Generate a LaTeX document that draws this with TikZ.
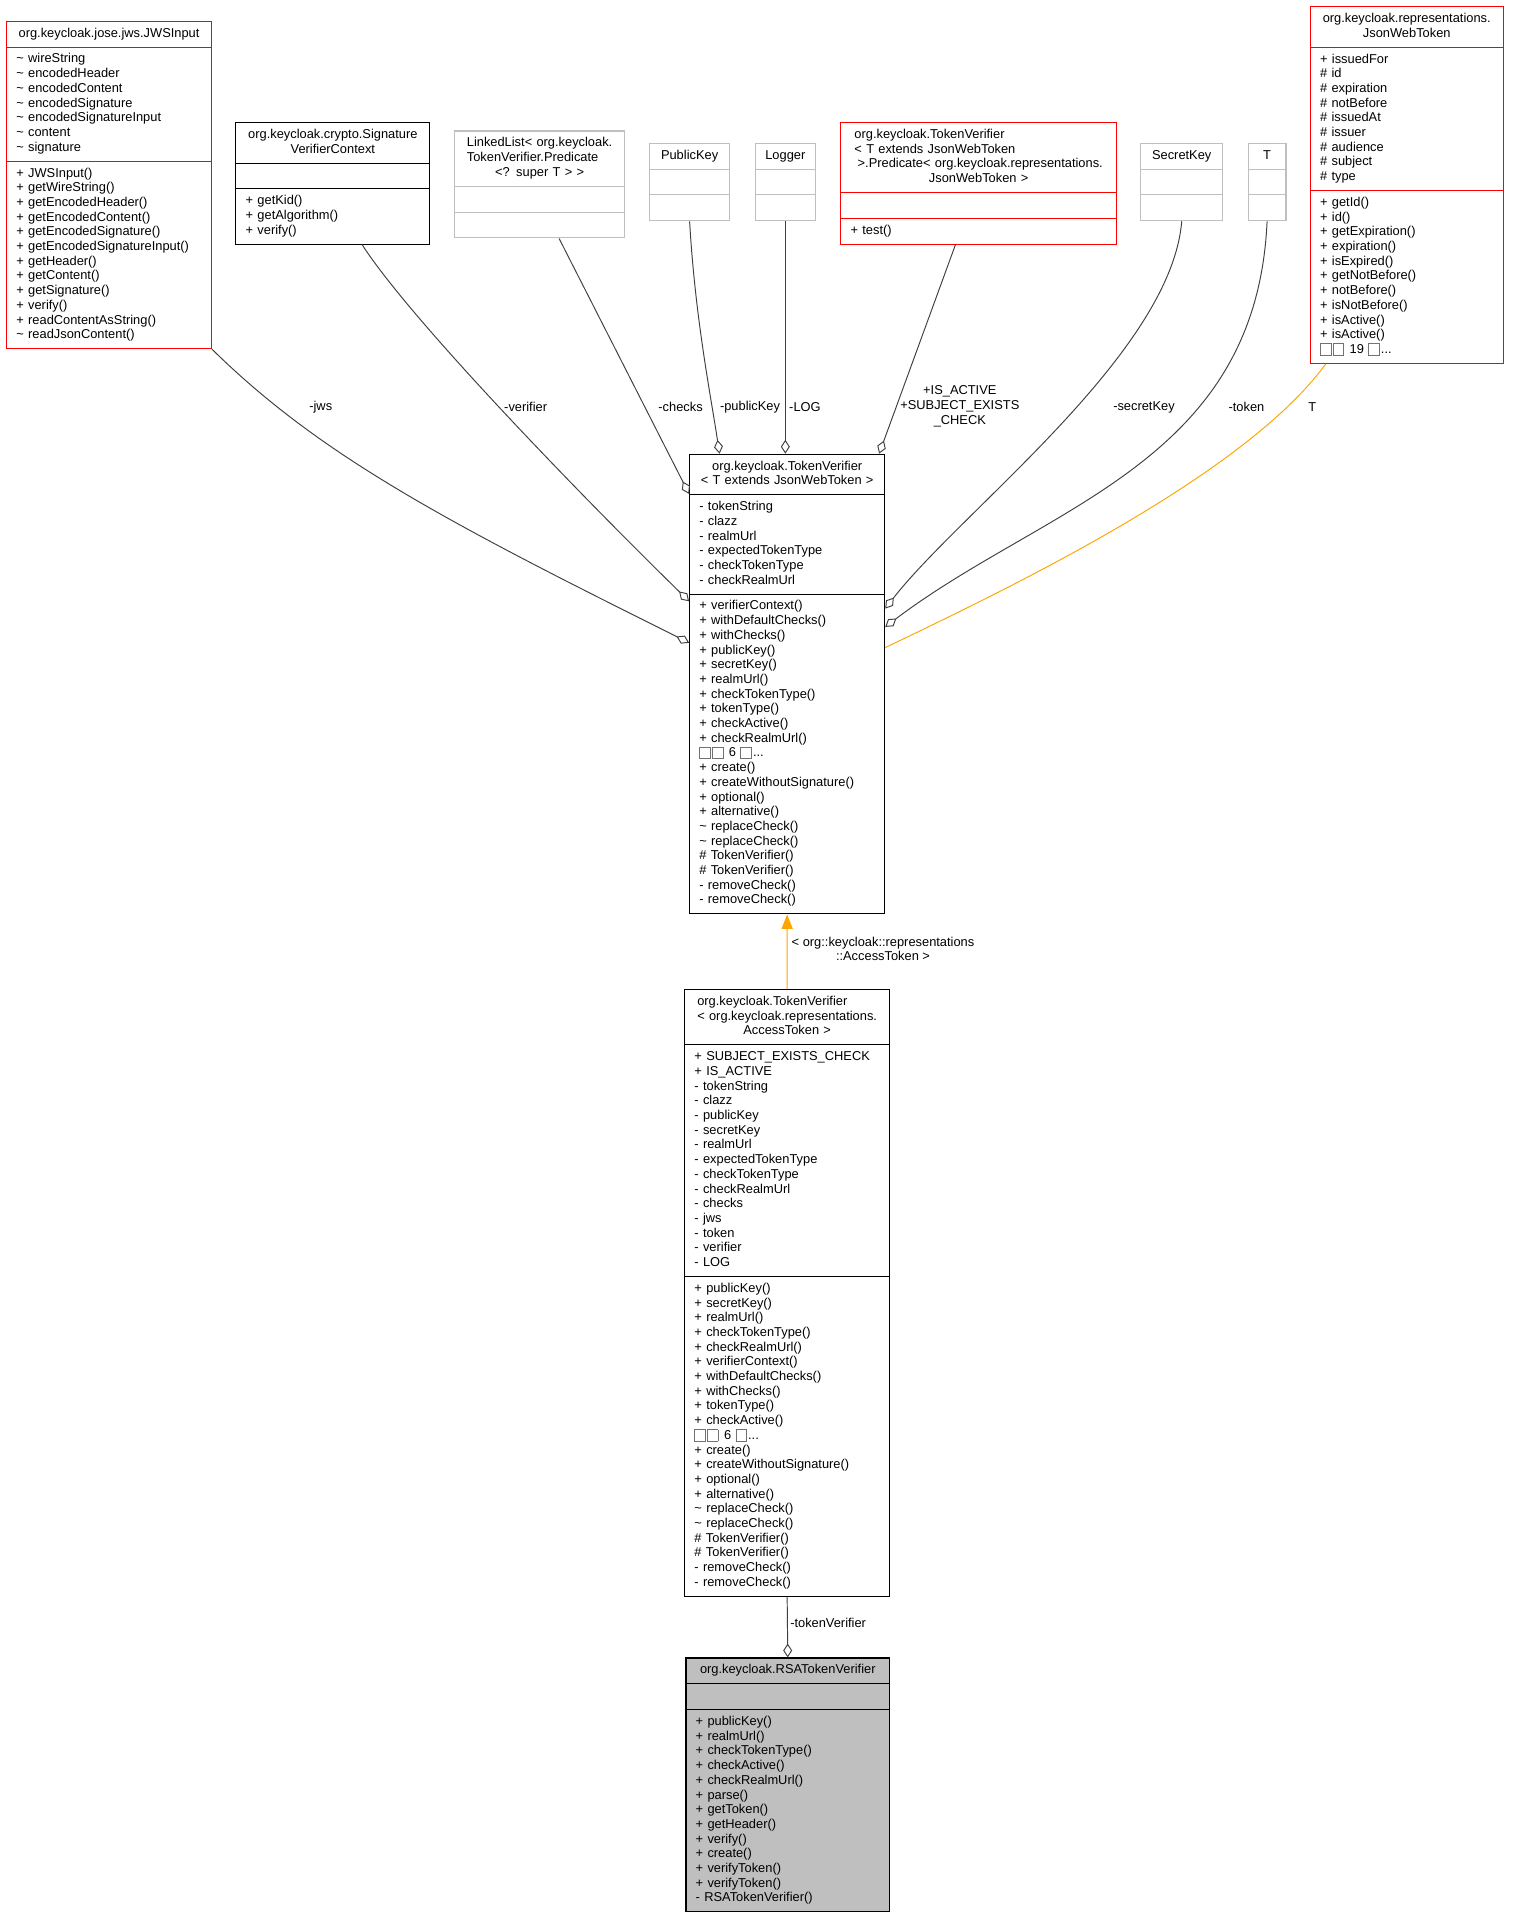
\documentclass[tikz,border=0pt]{standalone}
\usepackage{fontspec}
\setmainfont{Liberation Sans}
\usetikzlibrary{shapes.multipart,arrows.meta,calc,positioning}
\definecolor{edgegray}{HTML}{404040}
\definecolor{nodered}{HTML}{FF0000}
\definecolor{nodegray}{HTML}{BFBFBF}
\definecolor{tmplorange}{HTML}{FFA500}
\newcommand{\umlfont}{\fontsize{6}{6.86}\selectfont}
% compartments: a list of lines, a centred title, a title whose last line is centred
\newcommand{\mlist}[1]{\noindent\begin{tabular}[t]{@{}l@{}}#1\end{tabular}}
\newcommand{\mhead}[1]{\noindent\makebox[\hsize]{\begin{tabular}[t]{@{}c@{}}#1\end{tabular}}}
\newcommand{\mheadm}[2]{\noindent\makebox[\hsize]{\begin{tabular}[t]{@{}c@{}}\begin{tabular}[b]{@{}l@{}}#1\end{tabular}\\#2\end{tabular}}}
\newcommand{\nog}{{\color{nodegray!60!black}\fboxsep=0pt\fboxrule=0.35pt\raisebox{-0.6pt}{\fbox{\rule{0pt}{5pt}\hspace{4.6pt}}}}\hspace{0.6pt}}
\newcommand{\tld}{\textasciitilde{} }

\begin{document}
\begin{tikzpicture}[x=0.02cm,y=-0.02cm,font=\umlfont,
    umlclass/.style={rectangle split, rectangle split parts=3, draw=black, line width=0.5pt,
      inner xsep=4.55pt, inner ysep=2.35pt, anchor=north west},
    redclass/.style={umlclass, draw=nodered},
    extclass/.style={umlclass, draw=nodegray},
    member/.style={draw=edgegray, line width=0.45pt, -{Diamond[open,length=6.5pt,width=4.2pt]}},
    tmpl/.style={draw=tmplorange, line width=0.45pt},
    lbl/.style={inner sep=0pt, align=center}]
  \useasboundingbox (0,0) rectangle (1240,1571);

  % top row
  \node[redclass, text width=3.04cm] (jws) at (5,17) {\mhead{org.keycloak.jose.jws.JWSInput}
    \nodepart{two}\mlist{\tld wireString\\ \tld encodedHeader\\ \tld encodedContent\\ \tld encodedSignature\\
      \tld encodedSignatureInput\\ \tld content\\ \tld signature}
    \nodepart{three}\mlist{+ JWSInput()\\+ getWireString()\\+ getEncodedHeader()\\+ getEncodedContent()\\
      + getEncodedSignature()\\+ getEncodedSignatureInput()\\+ getHeader()\\+ getContent()\\+ getSignature()\\
      + verify()\\+ readContentAsString()\\ \tld readJsonContent()}};
  \node[umlclass, text width=2.86cm] (svc) at (193,100) {\mheadm{org.keycloak.crypto.Signature}{VerifierContext}
    \nodepart{two}\strut
    \nodepart{three}\mlist{+ getKid()\\+ getAlgorithm()\\+ verify()}};
  \node[extclass, text width=2.48cm] (llist) at (372,107) {\mheadm{LinkedList< org.keycloak.\\TokenVerifier.Predicate}{<? super T > >}
    \nodepart{two}\strut\nodepart{three}\strut};
  \foreach \x/\tw/\name/\title in {532/1.00/pubkey/PublicKey, 619/0.66/logger/Logger, 935/1.02/seckey/SecretKey, 1023/0.30/tparam/T}
    \node[extclass, text width=\tw cm] (\name) at (\x,117) {\mhead{\title}\nodepart{two}\strut\nodepart{three}\strut};
  \node[redclass, text width=4.20cm] (pred) at (689,100) {\mheadm{org.keycloak.TokenVerifier\\< T extends JsonWebToken\\
      \hspace{1.5pt}>.Predicate< org.keycloak.representations.}{JsonWebToken >}
    \nodepart{two}\strut
    \nodepart{three}\mlist{+ test()}};
  \node[redclass, text width=2.84cm] (jwt) at (1074,5) {\mheadm{org.keycloak.representations.}{JsonWebToken}
    \nodepart{two}\mlist{+ issuedFor\\\# id\\\# expiration\\\# notBefore\\\# issuedAt\\\# issuer\\\# audience\\\# subject\\\# type}
    \nodepart{three}\mlist{+ getId()\\+ id()\\+ getExpiration()\\+ expiration()\\+ isExpired()\\+ getNotBefore()\\
      + notBefore()\\+ isNotBefore()\\+ isActive()\\+ isActive()\\\nog\nog\ 19 \nog...}};

  % the verifier chain
  \node[umlclass, text width=2.88cm] (tv) at (565,372) {\mheadm{org.keycloak.TokenVerifier}{< T extends JsonWebToken >}
    \nodepart{two}\mlist{- tokenString\\- clazz\\- realmUrl\\- expectedTokenType\\- checkTokenType\\- checkRealmUrl}
    \nodepart{three}\mlist{+ verifierContext()\\+ withDefaultChecks()\\+ withChecks()\\+ publicKey()\\+ secretKey()\\
      + realmUrl()\\+ checkTokenType()\\+ tokenType()\\+ checkActive()\\+ checkRealmUrl()\\\nog\nog\ 6 \nog...\\
      + create()\\+ createWithoutSignature()\\+ optional()\\+ alternative()\\ \tld replaceCheck()\\ \tld replaceCheck()\\
      \# TokenVerifier()\\\# TokenVerifier()\\- removeCheck()\\- removeCheck()}};
  \node[umlclass, text width=3.04cm] (tva) at (561,811) {\mheadm{org.keycloak.TokenVerifier\\< org.keycloak.representations.}{AccessToken >}
    \nodepart{two}\mlist{+ SUBJECT\_EXISTS\_CHECK\\+ IS\_ACTIVE\\- tokenString\\- clazz\\- publicKey\\- secretKey\\- realmUrl\\
      - expectedTokenType\\- checkTokenType\\- checkRealmUrl\\- checks\\- jws\\- token\\- verifier\\- LOG}
    \nodepart{three}\mlist{+ publicKey()\\+ secretKey()\\+ realmUrl()\\+ checkTokenType()\\+ checkRealmUrl()\\
      + verifierContext()\\+ withDefaultChecks()\\+ withChecks()\\+ tokenType()\\+ checkActive()\\\nog\nog\ 6 \nog...\\
      + create()\\+ createWithoutSignature()\\+ optional()\\+ alternative()\\ \tld replaceCheck()\\ \tld replaceCheck()\\
      \# TokenVerifier()\\\# TokenVerifier()\\- removeCheck()\\- removeCheck()}};
  \node[umlclass, fill=nodegray, text width=3.02cm] (rsa) at (562,1359) {\mhead{org.keycloak.RSATokenVerifier}
    \nodepart{two}\strut
    \nodepart{three}\mlist{+ publicKey()\\+ realmUrl()\\+ checkTokenType()\\+ checkActive()\\+ checkRealmUrl()\\
      + parse()\\+ getToken()\\+ getHeader()\\+ verify()\\+ create()\\+ verifyToken()\\+ verifyToken()\\- RSATokenVerifier()}};

  % members
  \draw[member] (jws.south east) .. controls (262,373) and (364,427) .. ($(tv.north west)+(0,155)$);
  \draw[member] ($(svc.south)+(24,0)$) .. controls (335,260) and (470,400) .. ($(tv.north west)+(0,121)$);
  \draw[member] ($(llist.south)+(16,0)$) -- ($(tv.north west)+(0,33)$);
  \draw[member] (pubkey.south) .. controls (570,260) and (582,320) .. ($(tv.north west)+(25,0)$);
  \draw[member] (logger.south) -- (logger.south |- tv.north);
  \draw[member] ($(pred.south)+(-19,0)$) -- ($(tv.north east)+(-5,0)$);
  \draw[member] (seckey.south) .. controls (960,290) and (788,419) .. ($(tv.north east)+(0,127)$);
  \draw[member] (tparam.south) .. controls (1030,380) and (858,414) .. ($(tv.north east)+(0,142)$);
  \draw[tmpl] ($(jwt.south west)+(13,0)$) .. controls (1020,390) and (830,481) .. ($(tv.north east)+(0,159)$);
  \draw[tmpl, -{Triangle[length=6.7pt,width=5.2pt]}] (tva.north) -- (tv.south);
  \draw[member] (tva.south) -- (rsa.north);

  % edge labels
  \node[lbl] (ljws) at (263,334) {-jws};
  \node[lbl] (lverifier) at (431,334) {-verifier};
  \node[lbl] (lchecks) at (558,334) {-checks};
  \node[lbl] (lpubkey) at (615,334) {-publicKey};
  \node[lbl] (llog) at (660,334) {-LOG};
  \node[lbl] (lpred) at (787,333) {+IS\_ACTIVE\\+SUBJECT\_EXISTS\\\_CHECK};
  \node[lbl] (lseckey) at (938,334) {-secretKey};
  \node[lbl] (ltoken) at (1022,334) {-token};
  \node[lbl] (lt) at (1076,334) {T};
  \node[lbl] (linh) at (724,778) {< org::keycloak::representations\\::AccessToken >};
  \node[lbl] (ltv) at (679,1331) {-tokenVerifier};
\end{tikzpicture}
\end{document}
